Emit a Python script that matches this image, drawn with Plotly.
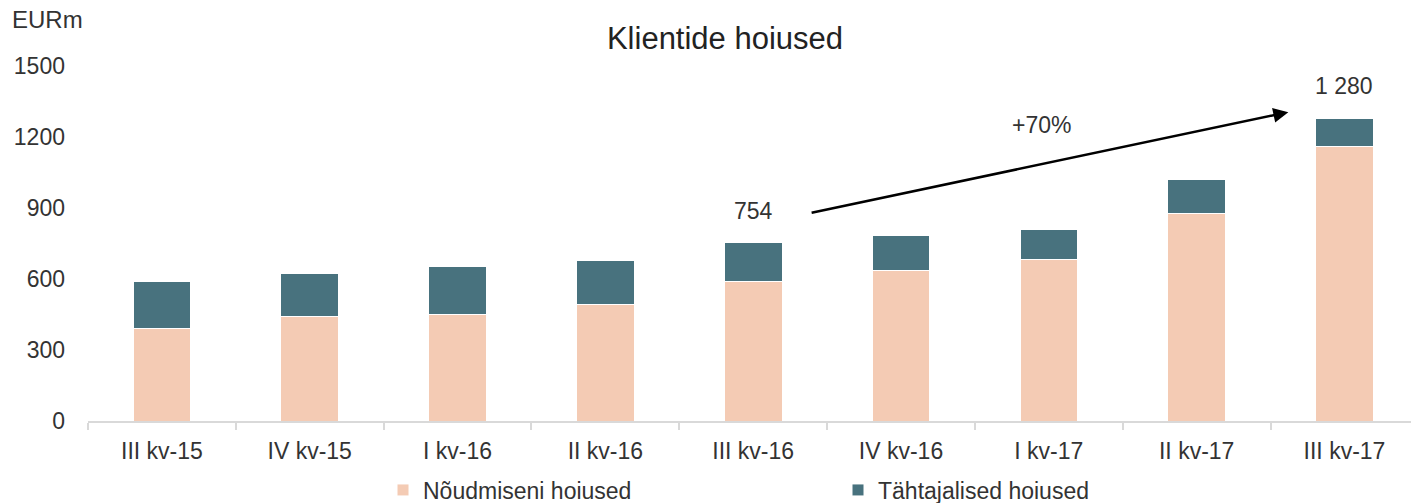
import plotly.graph_objects as go

categories = ["III kv-15", "IV kv-15", "I kv-16", "II kv-16", "III kv-16",
              "IV kv-16", "I kv-17", "II kv-17", "III kv-17"]
demand = [389, 443, 451, 492, 590, 635, 684, 878, 1160]
term = [200, 182, 202, 186, 164, 149, 125, 144, 120]
series_names = ["Nõudmiseni hoiused", "Tähtajalised hoiused"]
y_ticks = [0, 300, 600, 900, 1200, 1500]

totals = [d + t for d, t in zip(demand, term)]
start_i, end_i = 4, 8
growth = totals[end_i] / totals[start_i] - 1

def fmt(v):
    return f"{v:,}".replace(",", " ")

FONT = "Liberation Sans"
TXT = "#333333"
FS = 23

fig = go.Figure()
fig.add_trace(go.Bar(x=categories, y=demand, name=series_names[0],
                     marker=dict(color="#F4CBB4", line=dict(color="white", width=1))))
fig.add_trace(go.Bar(x=categories, y=term, name=series_names[1],
                     marker=dict(color="#48727E", line=dict(color="white", width=1))))

fig.update_layout(
    barmode="stack",
    bargap=0.61,
    width=1412, height=503,
    margin=dict(l=88, r=1, t=66, b=82),
    plot_bgcolor="white", paper_bgcolor="white",
    font=dict(family=FONT, size=FS, color=TXT),
    title=dict(text="Klientide hoiused", x=725/1412, xref="container", xanchor="center",
               y=1 - 38/503, yref="container", yanchor="middle",
               font=dict(size=31, color="#222222")),
    legend=dict(orientation="h", x=383/1412, xref="container", xanchor="left",
                y=1 - 490/503, yref="container", yanchor="middle",
                entrywidth=410, entrywidthmode="pixels",
                font=dict(size=FS, color=TXT), traceorder="normal"),
    xaxis=dict(type="category", range=[-0.5, 8.45], showline=True, linecolor="#d9d9d9",
               linewidth=2, ticks="outside", tickson="boundaries", ticklen=7,
               tickcolor="#d9d9d9", tickwidth=2, ticklabelstandoff=8, showgrid=False,
               automargin=False, tickfont=dict(size=FS, color=TXT)),
    yaxis=dict(range=[0, 1500], tickvals=y_ticks, showgrid=False, zeroline=False,
               showline=False, ticklabelstandoff=22, automargin=False,
               tickfont=dict(size=FS, color=TXT)),
)

annotations = [
    dict(text="EURm", xref="paper", yref="paper", x=(10 - 88) / 1323, y=(421 - 20) / 355,
         xanchor="left", yanchor="middle", showarrow=False, font=dict(size=24, color=TXT)),
    dict(text=fmt(totals[start_i]), xref="x", yref="y", x=start_i, y=887,
         showarrow=False, font=dict(size=FS, color=TXT)),
    dict(text=fmt(totals[end_i]), xref="x", yref="y", x=end_i, y=1415,
         showarrow=False, font=dict(size=FS, color=TXT)),
    dict(text=f"+{growth*100:.0f}%", xref="x", yref="y", x=5.95, y=1250,
         showarrow=False, font=dict(size=FS, color=TXT)),
    dict(text="", xref="x", yref="y", axref="x", ayref="y",
         x=7.62, y=1305, ax=4.385, ay=879, showarrow=True,
         arrowhead=2, arrowsize=1.2, arrowwidth=2.5, arrowcolor="black"),
]
fig.update_layout(annotations=annotations)

fig.write_html("out.html", config={"displayModeBar": False},
               post_script="document.body.style.margin='0';document.body.style.overflow='hidden';")
